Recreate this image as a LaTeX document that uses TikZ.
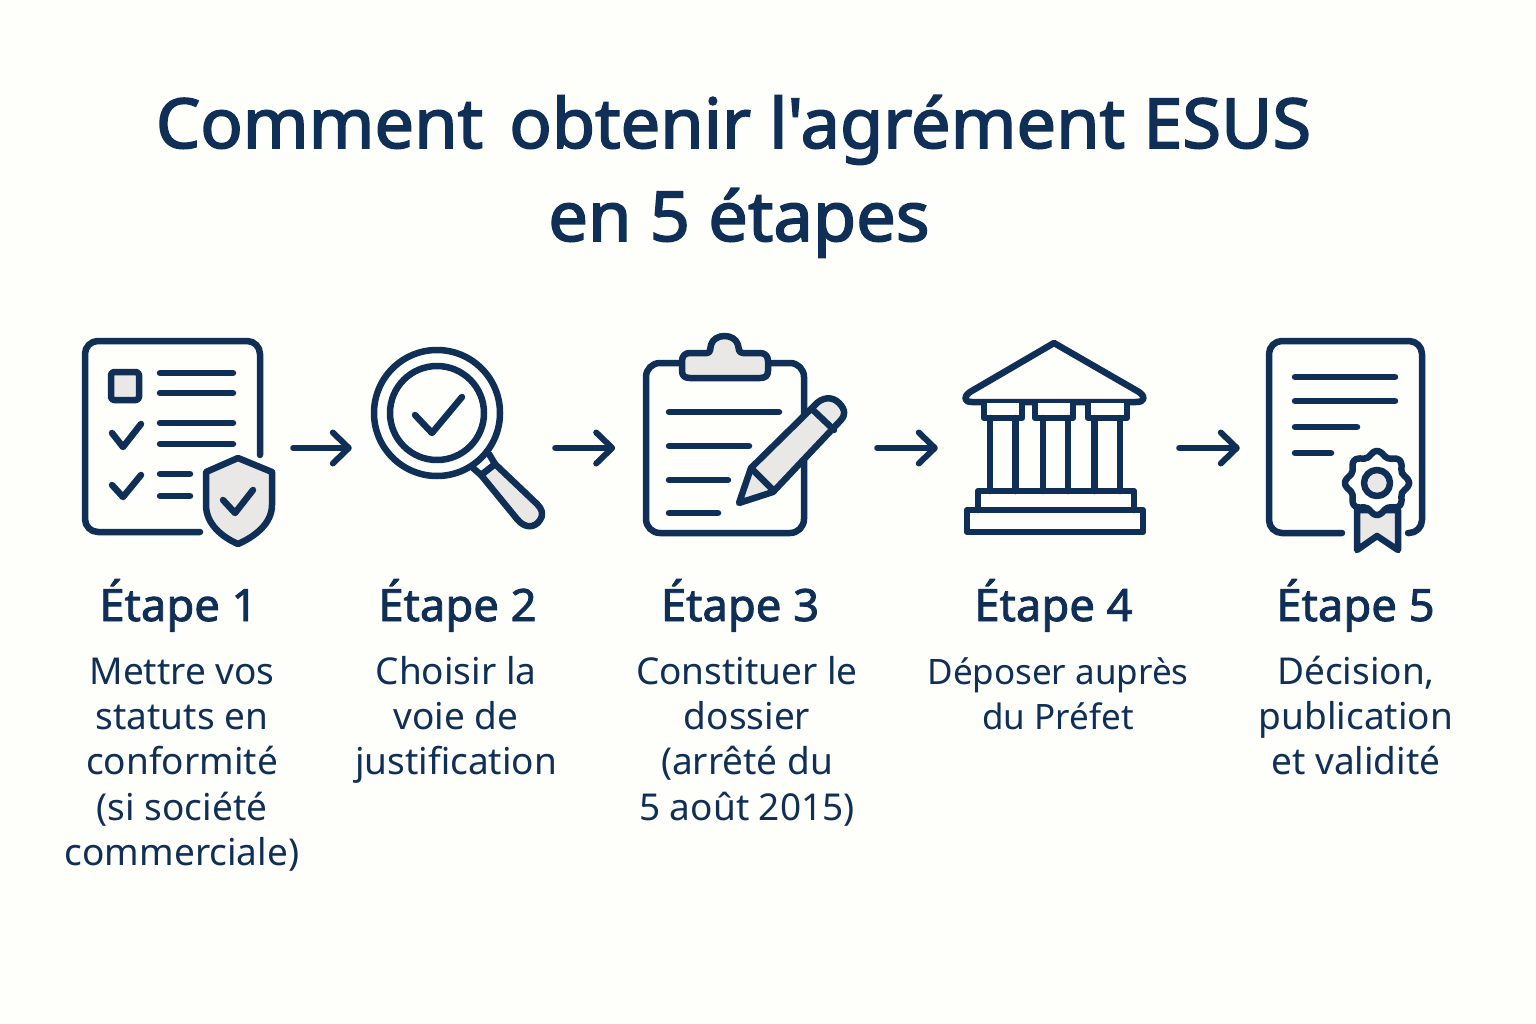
\documentclass[tikz,border=0pt]{standalone}
\usepackage{fontspec}
\usetikzlibrary{arrows.meta}
\setmainfont{Noto Sans}
\newfontfamily\titlefont[FakeBold=2.4,FakeStretch=1.02]{Noto Sans}
\newfontfamily\labelfont[FakeBold=2,FakeStretch=1.02]{Noto Sans}
\definecolor{navy}{HTML}{0F2F57}
\definecolor{paper}{HTML}{FEFEFB}
\definecolor{shade}{HTML}{E9E8E6}
\tikzset{
  ink/.style={draw=navy,line width=6.5pt,line cap=round,line join=round},
  shaded/.style={ink,fill=shade},
  flow/.style={draw=navy,line width=6pt,line cap=round,-{Straight Barb[round,length=16pt,width=31pt,line width=6pt]}},
  iconbox/.style={inner sep=0pt,minimum height=180pt},
  titletext/.style={text=navy,font=\titlefont\fontsize{69}{94}\selectfont,anchor=base,inner sep=0pt},
  steptitle/.style={text=navy,font=\labelfont\fontsize{44.5}{50}\selectfont,anchor=base,inner sep=0pt},
  steptext/.style={text=navy,font=\fontsize{37}{45.3}\selectfont,align=center,anchor=north,inner sep=0pt},
}
\newcommand{\firstline}{\rule{0pt}{35pt}}
\begin{document}
\begin{tikzpicture}[x=1pt,y=-1pt]
\useasboundingbox (0,0) rectangle (1536,1024);
\fill[paper] (0,0) rectangle (1536,1024);

% invisible icon frames, used as connector ends
\node[iconbox,minimum width=211pt] (icon1) at (187.5,448) {};
\node[iconbox,minimum width=203pt] (icon2) at (453.5,448) {};
\node[iconbox,minimum width=262pt] (icon3) at (746,448) {};
\node[iconbox,minimum width=241pt] (icon4) at (1058.5,448) {};
\node[iconbox,minimum width=190pt] (icon5) at (1335,448) {};

% title
\node[titletext] (title1) at (733.5,148) {Comment\hspace{8pt} obtenir l'agrément ESUS};
\node[titletext] (title2) at (739,241) {en 5 étapes};

% icon 1: checklist with shield
\draw[ink,rounded corners=13pt] (260,455) -- (260,341) -- (85,341) -- (85,532) -- (200,532);
\draw[shaded,rounded corners=3pt] (111,372) rectangle (139,400);
\foreach \yy in {373,393,423,444} \draw[ink] (160,\yy) -- (233,\yy);
\foreach \yy in {474,496} \draw[ink] (160,\yy) -- (190,\yy);
\draw[ink] (112,433) -- (123,447) -- (141,424);
\draw[ink] (112,485) -- (123,497) -- (141,475);
\draw[shaded] (238,458) -- (206,472) -- (206,505) .. controls (206,524) and (222,537) .. (238,544) .. controls (254,537) and (272,524) .. (272,505) -- (272,472) -- cycle;
\draw[ink] (223,500) -- (235,513) -- (253,490);

% icon 2: magnifier
\draw[shaded] (481,475) -- (517,519) .. controls (525,529) and (535,528) .. (540,520) .. controls (544,514) and (542,509) .. (537,504) -- (495,464) -- cycle;
\draw[ink,fill=paper] (473,468) -- (481,475) -- (495,464) -- (489,454);
\draw[ink,fill=paper] (437,413) circle[radius=63];
\draw[ink] (437,413) circle[radius=47];
\draw[ink] (415,415) -- (432,433) -- (462,397);

% icon 3: clipboard and pencil
\draw[ink,rounded corners=14pt] (646,363) rectangle (804,533);
\draw[shaded] (690,353) -- (707,353) .. controls (711,353) and (710,348) .. (711,345) .. controls (714,333) and (735,333) .. (738,345) .. controls (739,348) and (738,353) .. (743,353) -- (760,353) .. controls (765,353) and (768,356) .. (768,361) -- (768,371) .. controls (768,376) and (765,378) .. (760,378) -- (690,378) .. controls (685,378) and (682,376) .. (682,371) -- (682,361) .. controls (682,356) and (685,353) .. (690,353) -- cycle;
\draw[ink] (669,412) -- (779,412);
\draw[ink] (669,446) -- (749,446);
\draw[ink] (669,480) -- (728,480);
\draw[ink] (669,513) -- (718,513);
\draw[shaded] (751,468) -- (815,405) .. controls (822,397) and (832,396) .. (839,403) .. controls (846,410) and (845,416) .. (841,420) -- (773,492) -- (739,503) -- cycle;
\draw[ink] (813,410) -- (834,430);
\draw[ink] (753,470) -- (773,490);

% icon 4: temple
\draw[ink] (1054,343) -- (970,392) .. controls (963,397) and (964,402) .. (972,402) -- (1136,402) .. controls (1145,402) and (1146,397) .. (1139,392) -- cycle;
\foreach \xa/\xb in {984/1022,1035/1073,1088/1127}
  \draw[ink,fill=paper] (\xa,403) -- (\xa,418) -- (\xb,418) -- (\xb,403);
\foreach \xa in {990,1015.5,1043,1068,1094.5,1120}
  \draw[ink] (\xa,418) -- (\xa,491);
\draw[ink] (978,510) -- (978,491) -- (1134,491) -- (1134,510);
\draw[ink] (967,510) rectangle (1143,532);

% icon 5: certificate
\draw[ink,rounded corners=13pt] (1342,533) -- (1269,533) -- (1269,341) -- (1422,341) -- (1422,533) -- (1408,533);
\draw[ink] (1295,377) -- (1395,377);
\draw[ink] (1295,401) -- (1395,401);
\draw[ink] (1295,427) -- (1357,427);
\draw[ink] (1295,453) -- (1331,453);
\draw[shaded] (1357,510) -- (1357,550) -- (1377,536) -- (1398,550) -- (1398,510) -- cycle;
\draw[ink,fill=paper] plot[smooth cycle,samples=49,domain=0:352.5] ({1377+(29.5+2.6*cos(8*(\x-90)))*cos(\x)},{483-(29.5+2.6*cos(8*(\x-90)))*sin(\x)});
\draw[shaded] (1377,483) circle[radius=13];

% connectors
\draw[flow] (icon1.east) -- (icon2.west);
\draw[flow] (icon2.east) -- ([xshift=60pt]icon2.east);
\draw[flow] (icon3.east) -- (icon4.west);
\draw[flow] (icon4.east) -- (icon5.west);

% labels
\node[steptitle] (s1) at (178.5,621) {Étape 1};
\node[steptitle] (s2) at (457.5,621) {Étape 2};
\node[steptitle] (s3) at (740,621) {Étape 3};
\node[steptitle] (s4) at (1053.5,621) {Étape 4};
\node[steptitle] (s5) at (1355.5,621) {Étape 5};
\node[steptext] (t1) at (182,649) {\firstline Mettre vos\\statuts en\\conformité\\(si société\\commerciale)};
\node[steptext] (t2) at (456,649) {\firstline Choisir la\\voie de\\justification};
\node[steptext] (t3) at (747,649) {\firstline Constituer le\\dossier\\(arrêté du\\5 août 2015)};
\node[steptext,font=\fontsize{35}{45.3}\selectfont] (t4) at (1058,649) {\firstline Déposer auprès\\du Préfet};
\node[steptext] (t5) at (1356,649) {\firstline Décision,\\publication\\et validité};
\end{tikzpicture}
\end{document}
